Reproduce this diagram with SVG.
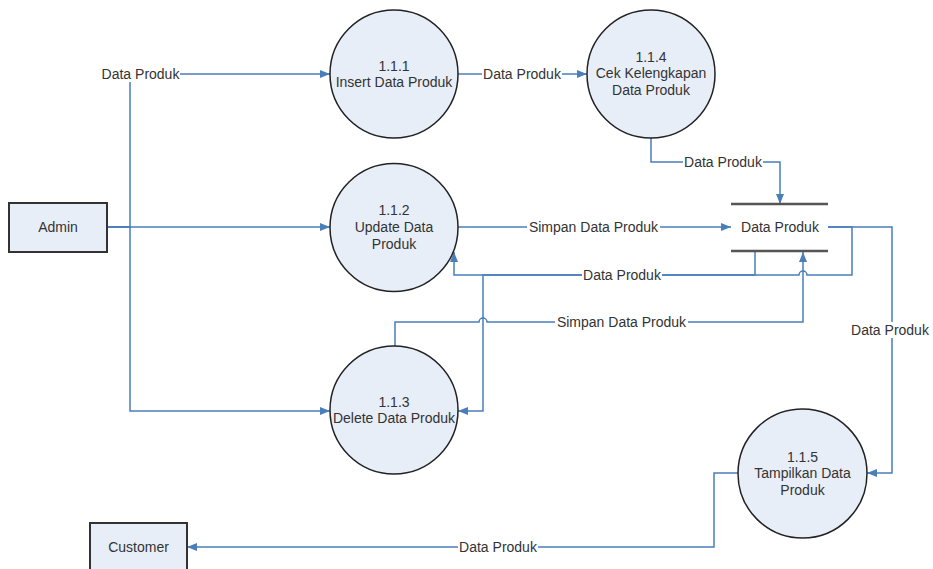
<svg xmlns="http://www.w3.org/2000/svg" width="933" height="569" viewBox="0 0 933 569">
  <defs>
    <marker id="arrow" viewBox="0 0 10 8" refX="10" refY="4" markerWidth="10" markerHeight="8" markerUnits="userSpaceOnUse" orient="auto">
      <path d="M0,0 L10,4 L0,8 z" fill="#4a7ebb"/>
    </marker>
    <style>
      text { font-family: "Liberation Sans", Arial, sans-serif; font-size: 14px; fill: #333333; text-anchor: middle; }
      .proc { fill: #e8eef8; stroke: #222222; stroke-width: 1.5; }
      .ent { fill: #e8eef8; stroke: #333333; stroke-width: 2; }
      .store { stroke: #555555; stroke-width: 2.5; }
      .flow { fill: none; stroke: #4a7ebb; stroke-width: 1.5; }
      .arr { marker-end: url(#arrow); }
      .lbg { fill: #ffffff; }
    </style>
  </defs>
  <rect width="933" height="569" fill="#ffffff"/>

  <!-- data flows -->
  <g id="connectors">
    <path class="flow arr" d="M107,227 H130 V74 H330"/>
    <path class="flow arr" d="M107,227 H330"/>
    <path class="flow arr" d="M107,227 H130 V411 H330"/>
    <path class="flow arr" d="M458,74 H587"/>
    <path class="flow arr" d="M651,138 V162 H780 V204"/>
    <path class="flow arr" d="M458,227 H731"/>
    <path class="flow arr" d="M755,252 V275 H454 V252"/>
    <path class="flow arr" d="M828,227 H852 V275 H807 A4,4 0 0 0 799,275 H483 V411 H458"/>
    <path class="flow arr" d="M395,346 V322 H479 A4,4 0 0 1 487,322 H803 V252"/>
    <path class="flow arr" d="M828,227 H892 V473 H867"/>
    <path class="flow arr" d="M738,473 H714 V547 H187"/>

    <!-- flow labels -->
    <rect class="lbg" x="101" y="66" width="79" height="16"/>
    <text x="140.5" y="79">Data Produk</text>
    <rect class="lbg" x="482" y="66" width="80" height="16"/>
    <text x="522" y="79">Data Produk</text>
    <rect class="lbg" x="683" y="154" width="80" height="16"/>
    <text x="723" y="167">Data Produk</text>
    <rect class="lbg" x="527" y="219" width="133" height="16"/>
    <text x="593.5" y="232">Simpan Data Produk</text>
    <rect class="lbg" x="582" y="267" width="80" height="16"/>
    <text x="622" y="280">Data Produk</text>
    <rect class="lbg" x="555" y="314" width="133" height="16"/>
    <text x="621.5" y="327">Simpan Data Produk</text>
    <rect class="lbg" x="850" y="322" width="80" height="16"/>
    <text x="890" y="335">Data Produk</text>
    <rect class="lbg" x="458" y="539" width="80" height="16"/>
    <text x="498" y="552">Data Produk</text>
  </g>

  <!-- external entities -->
  <g id="admin">
    <rect class="ent" x="9" y="203" width="98" height="49"/>
    <text x="58" y="232">Admin</text>
  </g>
  <g id="customer">
    <rect class="ent" x="90" y="523" width="97" height="60"/>
    <text x="138.5" y="552">Customer</text>
  </g>

  <!-- processes -->
  <g id="p111">
    <circle class="proc" cx="394" cy="74" r="64"/>
    <text x="394" y="71">1.1.1</text>
    <text x="394" y="87">Insert Data Produk</text>
  </g>
  <g id="p112">
    <circle class="proc" cx="394" cy="227.5" r="64"/>
    <text x="394" y="215">1.1.2</text>
    <text x="394" y="232">Update Data</text>
    <text x="394" y="249">Produk</text>
  </g>
  <g id="p113">
    <circle class="proc" cx="394" cy="410" r="64"/>
    <text x="394" y="407">1.1.3</text>
    <text x="394" y="423">Delete Data Produk</text>
  </g>
  <g id="p114">
    <circle class="proc" cx="651" cy="74" r="64"/>
    <text x="651" y="62">1.1.4</text>
    <text x="651" y="78">Cek Kelengkapan</text>
    <text x="651" y="95">Data Produk</text>
  </g>
  <g id="p115">
    <circle class="proc" cx="802.5" cy="473.5" r="64.5"/>
    <text x="802.5" y="462">1.1.5</text>
    <text x="802.5" y="478">Tampilkan Data</text>
    <text x="802.5" y="495">Produk</text>
  </g>

  <!-- data store -->
  <g id="store-data-produk">
    <line class="store" x1="731" y1="204" x2="828" y2="204"/>
    <line class="store" x1="731" y1="251" x2="828" y2="251"/>
    <text x="780" y="232">Data Produk</text>
  </g>
</svg>
